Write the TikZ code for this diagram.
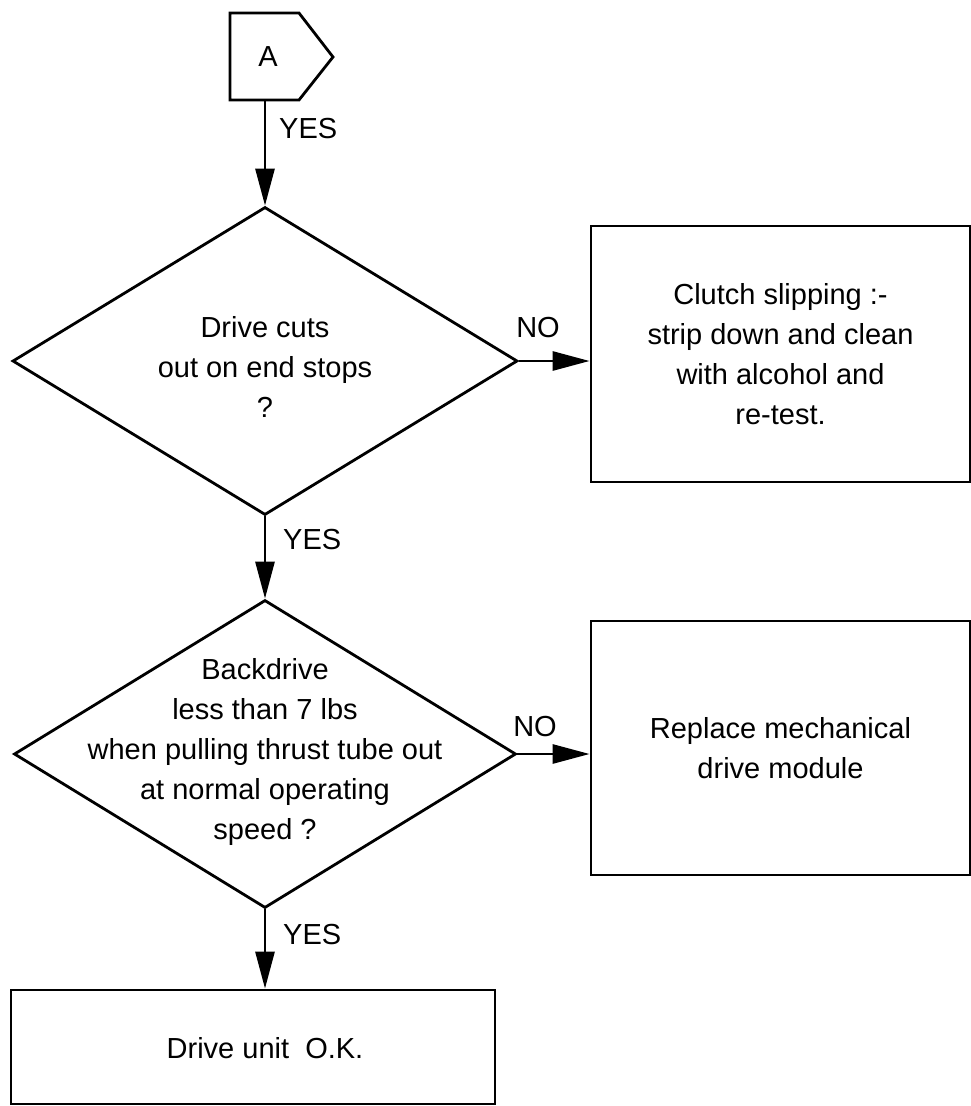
\documentclass[tikz,border=0pt]{standalone}
\usepackage{fontspec}
\setmainfont{Liberation Sans}
\usetikzlibrary{shapes.geometric,arrows.meta}

\tikzset{
  decision/.style={draw, diamond, inner sep=0pt, line width=2.8pt},
  block/.style={draw, rectangle, inner sep=0pt, line width=2.8pt, align=center},
  flowtext/.style={align=center, inner sep=0pt},
  flowarrow/.style={line width=2.8pt, -{Triangle[length=37pt,width=19pt]}},
}

\begin{document}
\begin{tikzpicture}[x=1pt, y=-1pt, font=\fontsize{29}{40}\selectfont]
    \useasboundingbox (0,0) rectangle (971,1106);

    %----------------------
    % OFF-PAGE CONNECTOR A
    %----------------------
    \draw[line width=2.8pt] (230,13) -- (299,13) -- (333,57) -- (299,100) -- (230,100) -- cycle;
    \node[flowtext] (A) at (268,57) {A};
    \coordinate (Aout) at (265,100);

    %----------------------
    % FIRST DECISION
    %----------------------
    \node[decision, minimum width=505pt, minimum height=308pt] (cuts) at (265,361) {};
    \node[flowtext] (cutstext) at (265,367) {Drive cuts\\out on end stops\\?};

    \node[block, minimum width=379pt, minimum height=256pt] (clutch) at (780.5,354)
        {Clutch slipping :-\\strip down and clean\\with alcohol and\\re-test.};

    %----------------------
    % SECOND DECISION
    %----------------------
    \node[decision, minimum width=502pt, minimum height=308pt] (backdrive) at (265,754) {};
    \node[flowtext] (backdrivetext) at (265,752)
        {Backdrive\\less than 7 lbs\\when pulling thrust tube out\\at normal operating\\speed ?};

    \node[block, minimum width=379pt, minimum height=254pt] (replace) at (780.5,748)
        {Replace mechanical\\drive module};

    %----------------------
    % END BOX
    %----------------------
    \node[block, minimum width=484pt, minimum height=114pt] (okbox) at (253,1047) {};
    \node[flowtext] (oktext) at (265,1048) {Drive unit\ \ O.K.};

    % Arrows
    \draw[flowarrow] (Aout) -- (Aout |- cuts.north);
    \draw[flowarrow] (cuts.east) -- (cuts.east -| clutch.west);
    \draw[flowarrow] (cuts.south) -- (backdrive.north);
    \draw[flowarrow] (backdrive.east) -- (backdrive.east -| replace.west);
    \draw[flowarrow] (backdrive.south) -- (backdrive.south |- okbox.north);

    % Labels
    \node[flowtext, anchor=west] (yesA) at (279,129) {YES};
    \node[flowtext, anchor=west] (yescuts) at (283,540) {YES};
    \node[flowtext, anchor=west] (yesback) at (283,935) {YES};
    \node[flowtext] (nocuts) at (538,328) {NO};
    \node[flowtext] (noback) at (535,727) {NO};
\end{tikzpicture}
\end{document}
